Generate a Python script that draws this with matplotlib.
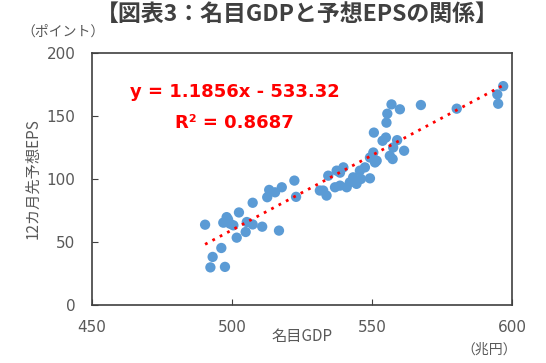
import matplotlib.pyplot as plt
import numpy as np

plt.rcParams['font.family'] = ['Noto Sans CJK JP', 'DejaVu Sans']

# 名目GDP (兆円) and 12カ月先予想EPS (ポイント)
gdp = [490.4, 493.1, 492.3, 497.5, 496.2, 498.1, 496.9, 499.3, 500.5, 502.5,
       501.7, 504.9, 505.3, 507.4, 507.4, 510.8, 516.8, 512.6, 513.3, 515.4,
       517.8, 522.3, 522.9, 498.6, 497.5, 531.4, 534.4, 532.6, 533.8, 537.4,
       539.8, 538.6, 542.1, 541.0, 538.6, 536.8, 544.5, 546.1, 543.3, 545.7,
       547.5, 549.3, 551.7, 550.5, 549.3, 551.1, 553.8, 555.0, 550.7, 557.6,
       556.4, 557.4, 559.0, 561.5, 555.2, 555.5, 557.0, 560.0, 567.5, 580.3,
       596.9, 594.8, 595.1]
eps = [63.7, 38.1, 29.8, 30.2, 45.2, 69.7, 65.3, 64.5, 63.2, 73.4,
       53.4, 57.9, 65.8, 63.9, 81.1, 62.1, 59.0, 85.5, 91.3, 89.4,
       93.4, 98.7, 85.8, 67.9, 65.8, 90.8, 102.6, 90.8, 86.8, 106.6,
       109.2, 105.0, 97.3, 93.4, 94.7, 93.4, 96.1, 100.0, 101.3, 106.6,
       109.2, 100.5, 114.5, 121.0, 117.0, 113.1, 130.3, 132.9, 136.8, 125.0,
       118.4, 115.8, 130.8, 122.4, 144.7, 151.8, 159.2, 155.3, 158.7, 155.8,
       173.7, 167.1, 159.7]

# trend line coefficients as printed on the chart
slope = 1.1856
intercept = -533.32
r2 = 0.8687

gray = '#595959'

fig = plt.figure(figsize=(5.46, 3.63), dpi=100)
ax = fig.add_axes([0.1685, 0.160, 0.769, 0.694])

ax.scatter(gdp, eps, s=55, color='#5B9BD5', edgecolors='none', zorder=3)

xs = np.array([min(gdp), max(gdp)])
ax.plot(xs, slope * xs + intercept, color='#FF0000', linestyle=(0, (1, 2)),
        linewidth=2, zorder=4)

ax.set_xlim(450, 600)
ax.set_ylim(0, 200)
ax.set_xticks([450, 500, 550, 600])
ax.set_yticks([0, 50, 100, 150, 200])
ax.tick_params(axis='both', direction='in', length=4, color='#404040',
               labelsize=11, labelcolor=gray)
ax.tick_params(axis='x', pad=11)
ax.tick_params(axis='y', pad=12)
for lab in ax.get_xticklabels() + ax.get_yticklabels():
    lab.set_family('DejaVu Sans')
for sp in ax.spines.values():
    sp.set_color('#404040')
    sp.set_linewidth(1.2)

ax.set_xlabel('名目GDP', fontsize=11, color=gray, labelpad=-5)
ax.set_ylabel('12カ月先予想EPS', fontsize=11, color=gray, labelpad=4)

ax.text(0.34, 0.845, f'y = {slope}x - {abs(intercept):.2f}', transform=ax.transAxes,
        ha='center', va='center', color='#FF0000', fontsize=13, fontweight='bold',
        family='DejaVu Sans')
ax.text(0.34, 0.722, f'R² = {r2}', transform=ax.transAxes,
        ha='center', va='center', color='#FF0000', fontsize=13, fontweight='bold',
        family='DejaVu Sans')

fig.text(0.545, 0.96, '【図表3：名目GDPと予想EPSの関係】', ha='center', va='center',
         fontsize=16.5, fontweight='bold', color='#404040')
fig.text(0.116, 0.913, '（ポイント）', ha='center', va='center', fontsize=10, color=gray)
fig.text(0.947, 0.036, '（兆円）', ha='right', va='center', fontsize=10, color=gray)

fig.savefig('out.png', dpi=100)
